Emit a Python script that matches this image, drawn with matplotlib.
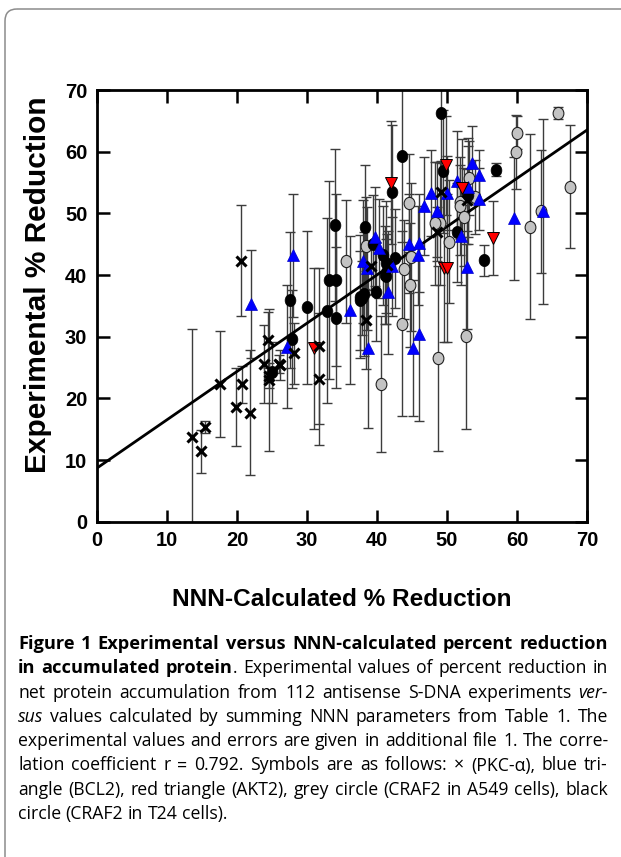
import re
import matplotlib
matplotlib.use("Agg")
import matplotlib.pyplot as plt
import numpy as np
from matplotlib.path import Path
from matplotlib.transforms import Affine2D
from matplotlib.patches import FancyBboxPatch

# ---------------- data ----------------
# PKC-alpha (black crosses)
pkc_x = [13.5, 14.9, 15.4, 17.6, 19.8, 20.7, 21.8, 20.5, 23.8, 24.4, 24.5, 24.6, 26.0, 28.1,
         31.7, 31.7, 38.4, 39.2, 49.2, 52.8, 48.5, 41.4, 26.1]
pkc_y = [13.8, 11.4, 15.4, 22.4, 18.6, 22.3, 17.7, 42.3, 25.6, 29.5, 23.7, 23.0, 25.6, 27.3,
         28.5, 23.1, 32.7, 41.5, 53.5, 52.2, 47.0, 41.6, 25.4]
pkc_err = [17.5, 3.5, 1.0, 8.6, 6.4, 3.0, 10.1, 9.0, 6.3, 4.5, 2.0, 11.5, 1.5, 5.0,
           12.6, 10.7, 8.0, 4.0, 5.0, 5.0, 4.0, 5.0, 2.5]

# BCL2 (blue triangles)
bcl2_x = [22.0, 28.0, 27.1, 36.1, 38.7, 39.7, 40.3, 38.0, 38.6, 41.5, 44.5, 46.0, 45.9, 46.7,
          47.7, 48.5, 50.0, 51.4, 53.0, 53.5, 54.6, 54.5, 52.0, 52.9, 59.6, 63.7, 45.1, 46.0, 42.1]
bcl2_y = [35.3, 43.2, 28.4, 34.3, 28.2, 46.2, 44.3, 42.2, 41.1, 37.2, 45.1, 45.2, 43.2, 51.2,
          53.3, 50.3, 53.3, 55.3, 54.2, 58.2, 56.2, 52.3, 46.3, 41.3, 49.2, 50.3, 28.2, 30.4, 41.4]
bcl2_err = [8.7, 10.0, 10.0, 12.0, 13.0, 8.0, 8.0, 10.0, 10.0, 10.0, 8.0, 8.0, 8.0, 8.0,
            7.0, 8.0, 6.0, 8.0, 8.0, 6.0, 4.0, 5.0, 8.0, 10.0, 10.0, 15.0, 11.0, 14.0, 8.0]

# AKT2 (red triangles)
akt2_x = [31.0, 42.0, 49.9, 52.2, 56.6, 49.5, 50.0]
akt2_y = [28.1, 55.0, 57.8, 54.1, 46.0, 41.1, 41.1]
akt2_err = [13.0, 10.0, 8.0, 8.0, 6.0, 12.0, 12.0]

# CRAF2 in A549 cells (grey circles)
a549_x = [65.9, 60.0, 59.9, 67.6, 61.9, 63.4, 53.2, 51.8, 51.8, 52.4, 54.0, 50.3, 49.0, 48.3,
          44.6, 44.9, 43.8, 44.7, 35.6, 38.4, 43.5, 40.6, 48.7, 52.7]
a549_y = [66.3, 63.1, 60.0, 54.3, 47.8, 50.3, 55.7, 51.9, 51.2, 49.4, 52.6, 45.4, 48.4, 48.4,
          51.7, 43.0, 40.9, 38.4, 42.2, 44.7, 32.1, 22.3, 26.5, 30.1]
a549_err = [1.0, 2.7, 6.0, 10.0, 15.0, 10.0, 6.0, 6.0, 8.0, 8.0, 6.0, 10.0, 10.0, 10.0,
            8.0, 12.0, 8.0, 10.0, 10.0, 8.0, 15.0, 11.0, 15.0, 15.0]

# CRAF2 in T24 cells (black circles)
t24_x = [34.0, 33.2, 34.2, 27.6, 30.0, 32.9, 34.2, 27.8, 25.0, 38.3, 39.4, 37.6, 38.1, 39.9,
         41.1, 43.5, 42.2, 49.2, 49.4, 57.0, 51.4, 55.3, 40.9, 42.6, 41.3, 41.3, 37.8, 53.0, 37.6]
t24_y = [48.1, 39.2, 39.2, 35.9, 34.8, 34.2, 33.1, 29.6, 24.2, 47.8, 45.0, 36.5, 36.9, 37.3,
         40.0, 59.3, 53.4, 66.2, 56.8, 57.1, 46.9, 42.4, 43.2, 42.7, 42.0, 39.8, 36.3, 53.0, 35.9]
t24_err = [12.3, 16.0, 14.0, 11.0, 12.4, 15.0, 11.5, 8.0, 5.0, 10.0, 8.0, 10.0, 10.0, 8.0,
           8.0, 14.0, 11.0, 8.0, 10.0, 1.0, 8.0, 2.5, 8.0, 8.0, 10.0, 6.0, 6.0, 8.0, 8.0]

# regression line
fit_intercept = 8.7
fit_slope = 0.783

x_ticks = [0, 10, 20, 30, 40, 50, 60, 70]
y_ticks = [0, 10, 20, 30, 40, 50, 60, 70]
x_label = "NNN-Calculated % Reduction"
y_label = "Experimental % Reduction"

caption_lines = [
    [("b", "Figure 1 Experimental versus NNN-calculated percent reduction")],
    [("b", "in accumulated protein"), ("r", ". Experimental values of percent reduction in")],
    [("r", "net protein accumulation from 112 antisense S-DNA experiments "), ("i", "ver-")],
    [("i", "sus"), ("r", " values calculated by summing NNN parameters from Table 1. The")],
    [("r", "experimental values and errors are given in additional file 1. The corre-")],
    [("r", "lation coefficient r = 0.792. Symbols are as follows: \u00d7 (PKC-\u03b1), blue tri-")],
    [("r", "angle (BCL2), red triangle (AKT2), grey circle (CRAF2 in A549 cells), black")],
    [("r", "circle (CRAF2 in T24 cells).")],
]

# ---------------- figure ----------------
W, H, DPI = 621, 857, 100
fig = plt.figure(figsize=(W / DPI, H / DPI), dpi=DPI)
fig.patch.set_facecolor("white")

bg = fig.add_axes([0, 0, 1, 1])
bg.set_xlim(0, W)
bg.set_ylim(H, 0)
bg.axis("off")
bg.add_patch(FancyBboxPatch((5, 9), 800, 1000, boxstyle="round,pad=0,rounding_size=12",
                            fc="none", ec="#8c8c8c", lw=1.1))

ax = fig.add_axes([97 / W, 1 - 521.7 / H, 490 / W, 431.7 / H])
ax.set_xlim(0, 70)
ax.set_ylim(0, 70)

ell = Path.unit_circle().transformed(Affine2D().scale(0.88, 1.0))

err_kw = dict(fmt="none", ecolor="#3c3c3c", elinewidth=1.0, capsize=3.6, capthick=1.0, zorder=2)
for xs, ys, es in [(pkc_x, pkc_y, pkc_err), (bcl2_x, bcl2_y, bcl2_err), (akt2_x, akt2_y, akt2_err),
                   (a549_x, a549_y, a549_err), (t24_x, t24_y, t24_err)]:
    ax.errorbar(xs, ys, yerr=es, **err_kw)

xs_line = np.array([0, 70])
ax.plot(xs_line, fit_intercept + fit_slope * xs_line, color="black", lw=2.0, zorder=3)

ax.plot(a549_x, a549_y, ls="none", marker=ell, ms=8.8, mfc="#c3c3c3", mec="#222222", mew=0.8, zorder=4)
ax.plot(t24_x, t24_y, ls="none", marker=ell, ms=8.8, mfc="black", mec="black", mew=0.5, zorder=4)
ax.plot(bcl2_x, bcl2_y, ls="none", marker="^", ms=8.5, mfc="#0000ff", mec="#0000cc", mew=0.5, zorder=5)
ax.plot(akt2_x, akt2_y, ls="none", marker="v", ms=8.5, mfc="#ff0000", mec="black", mew=0.7, zorder=5)
ax.plot(pkc_x, pkc_y, ls="none", marker="x", ms=6.5, mew=2.2, color="black", zorder=6)

for s in ax.spines.values():
    s.set_linewidth(2.0)
ax.set_xticks(x_ticks)
ax.set_yticks(y_ticks)
ax.tick_params(direction="in", length=9, width=1.8, top=True, right=True, labelsize=14.5, pad=7)
for lbl in ax.get_xticklabels() + ax.get_yticklabels():
    lbl.set_fontweight("bold")
    lbl.set_family("Liberation Sans")

fig.text(342 / W, 1 - 600 / H, x_label, ha="center", va="center", fontsize=17.6,
         fontweight="bold", family="Liberation Sans")
fig.text(38 / W, 1 - 285 / H, y_label, ha="center", va="center", rotation=90, fontsize=21.5,
         fontweight="bold", family="Liberation Sans")

# ---------------- caption (justified) ----------------
renderer = fig.canvas.get_renderer()
FAM = ["Open Sans", "DejaVu Sans"]
SIZES = {}


def font_of(style):
    if style == "b":
        return dict(family=FAM, weight="bold", style="normal")
    if style == "i":
        return dict(family=FAM, weight="normal", style="italic")
    return dict(family=FAM, weight="normal", style="normal")


def measure(txt, style, fs=None):
    fs = SIZES.get(style, 10.0) if fs is None else fs
    t = fig.text(0, 0, txt, fontsize=fs, **font_of(style))
    w = t.get_window_extent(renderer).width
    t.remove()
    return w


def words_of(line):
    chars = []
    for style, text in line:
        chars += [(c, style) for c in text]
    words, cur = [], []
    for c, st in chars:
        if c == " ":
            if cur:
                words.append(cur)
            cur = []
        else:
            if cur and cur[-1][1] == st:
                cur[-1] = (cur[-1][0] + c, st)
            else:
                cur.append((c, st))
    if cur:
        words.append(cur)
    return words


def natural_width(line, sizes):
    words = words_of(line)
    sp = measure("a a", "r", sizes["r"]) - measure("aa", "r", sizes["r"])
    return sum(sum(measure(t, st, sizes[st]) for t, st in w) for w in words) + sp * (len(words) - 1)


CAP_LEFT, CAP_RIGHT = 18, 608
TARGET = (CAP_RIGHT - CAP_LEFT) * 0.985
base = {"r": 10.0, "i": 10.0, "b": 10.0}
reg_fs = min(10.0 * TARGET / natural_width(l, base) for l in caption_lines[2:-1])
bold_fs = min(10.0 * TARGET / natural_width(caption_lines[0], base), reg_fs * 1.08)
SIZES.update({"r": reg_fs, "i": reg_fs, "b": bold_fs})

for i, line in enumerate(caption_lines):
    words = words_of(line)
    widths = [sum(measure(t, st) for t, st in w) for w in words]
    space = measure("a a", "r") - measure("aa", "r")
    if i < len(caption_lines) - 1 and len(words) > 1:
        gap = (CAP_RIGHT - CAP_LEFT - sum(widths)) / (len(words) - 1)
    else:
        gap = space
    x = CAP_LEFT
    y = 644 + 24.3 * i + 5
    for w, ww in zip(words, widths):
        xx = x
        for t, st in w:
            fig.text(xx / W, 1 - y / H, t, fontsize=SIZES[st], ha="left", va="baseline", **font_of(st))
            xx += measure(t, st)
        x += ww + gap

fig.savefig("out.png", dpi=DPI, facecolor="white")
